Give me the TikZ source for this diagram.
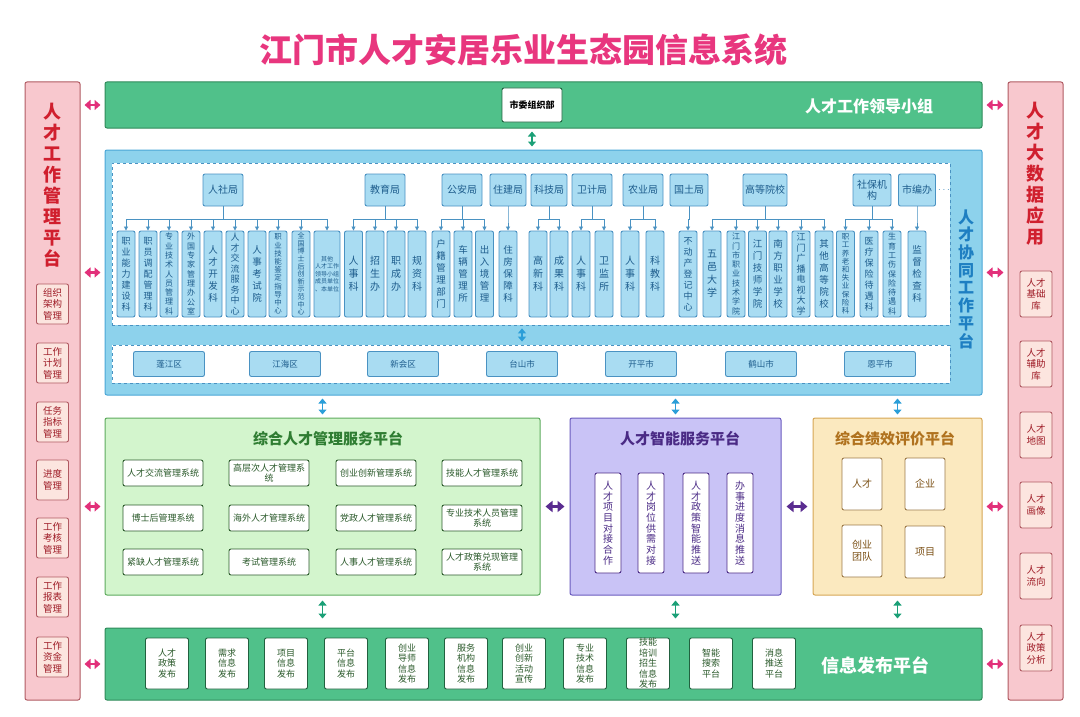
\documentclass[tikz,border=0pt]{standalone}
\usepackage{fontspec}
\setmainfont{Noto Sans CJK SC}
\usetikzlibrary{arrows.meta}

\XeTeXlinebreaklocale "zh"
\XeTeXlinebreakskip=0pt plus 0.5pt
\newcommand{\vtext}[1]{\parbox{1.02em}{\centering #1}}

\definecolor{cTitle}{HTML}{E8367E}
\definecolor{cSideFill}{HTML}{F8C8CE}
\definecolor{cSideLine}{HTML}{B05A62}
\definecolor{cSideHead}{HTML}{D01F2E}
\definecolor{cSideBox}{HTML}{FCE5DF}
\definecolor{cSideText}{HTML}{9E1B26}
\definecolor{cLead}{HTML}{50C18A}
\definecolor{cLeadLine}{HTML}{2F8A5A}
\definecolor{cBlue}{HTML}{8DD2EC}
\definecolor{cBlueLine}{HTML}{4AA6D6}
\definecolor{cBlueHead}{HTML}{1E7FC2}
\definecolor{cDept}{HTML}{A9DCF2}
\definecolor{cDeptLine}{HTML}{4A92C2}
\definecolor{cDeptText}{HTML}{1D5C8C}
\definecolor{cMgmt}{HTML}{D3F5CD}
\definecolor{cMgmtLine}{HTML}{5DAA5D}
\definecolor{cMgmtHead}{HTML}{2F7D32}
\definecolor{cMgmtText}{HTML}{2B5A2B}
\definecolor{cSmart}{HTML}{C9C3F6}
\definecolor{cSmartLine}{HTML}{6A5BBE}
\definecolor{cSmartHead}{HTML}{4A2A85}
\definecolor{cEval}{HTML}{FBE9BF}
\definecolor{cEvalLine}{HTML}{D6A655}
\definecolor{cEvalHead}{HTML}{B0721E}
\definecolor{cEvalBox}{HTML}{9C7A48}
\definecolor{cPink}{HTML}{E2307A}
\definecolor{cArrBlue}{HTML}{2B9ED8}
\definecolor{cArrGreen}{HTML}{1BA077}
\definecolor{cArrPurple}{HTML}{5A2C90}

\begin{document}
\begin{tikzpicture}[x=1pt, y=-1pt,
  panel/.style={draw, line width=1, rounded corners=2},
  sidehead/.style={text=cSideHead, inner sep=0, font=\bfseries\fontsize{18}{21}\selectfont},
  sidebox/.style={draw=cSideLine, fill=cSideBox, text=cSideText, rounded corners=2, line width=0.9,
    minimum width=32, minimum height=40, align=center, inner sep=1, font=\fontsize{9.5}{11.5}\selectfont},
  zone/.style={draw=cDeptLine, dashed, fill=white, line width=0.8},
  dept/.style={draw=cDeptLine, fill=cDept, text=cDeptText, rounded corners=2, line width=0.9,
    minimum width=40, minimum height=32, align=center, inner sep=1, font=\fontsize{10}{11}\selectfont},
  kid/.style={dept, minimum width=18, minimum height=86, inner sep=0, font=\fontsize{9}{11}\selectfont},
  county/.style={dept, minimum width=71, minimum height=25, font=\fontsize{8.5}{10}\selectfont},
  tree/.style={draw=cDeptLine, line width=0.8, -{Triangle[width=4,length=4]}},
  whitebox/.style={draw, fill=white, rounded corners=2, line width=0.9, align=center, inner sep=1},
  sys/.style={whitebox, draw=cMgmtText, text=cMgmtText, minimum width=80, minimum height=26,
    font=\fontsize{9}{10}\selectfont},
  smartbox/.style={whitebox, draw=cSmartHead, text=cSmartHead, minimum width=26, minimum height=100,
    inner sep=0, font=\fontsize{10}{10.7}\selectfont},
  evalbox/.style={whitebox, draw=cEvalBox, text=cEvalHead!70!black, minimum width=40, minimum height=52,
    font=\fontsize{10}{12}\selectfont},
  pubbox/.style={whitebox, draw=cLeadLine!70!black, text=cMgmtText, minimum width=43, minimum height=51,
    font=\fontsize{9}{10.5}\selectfont},
  twoway/.style={line width=2.2, {Triangle[width=8,length=5]}-{Triangle[width=8,length=5]}},
  pinkarrow/.style={line width=2.6, draw=cPink, {Triangle[width=10,length=6]}-{Triangle[width=10,length=6]},
    shorten <=4, shorten >=4},
  bluearrow/.style={twoway, draw=cArrBlue, line width=1.8, shorten <=3, shorten >=3},
  greenarrow/.style={twoway, draw=cArrGreen, line width=1.8, shorten <=3, shorten >=3},
  purplearrow/.style={line width=3, draw=cArrPurple, {Triangle[width=11,length=7]}-{Triangle[width=11,length=7]},
    shorten <=5, shorten >=5}]
\useasboundingbox (0,0) rectangle (1080,717);

% Title
\node (title) at (523,50) [text=cTitle, font=\bfseries\fontsize{33}{36}\selectfont] {江门市人才安居乐业生态园信息系统};

% Left panel
\node (talentmgr) at (52.5,391) [panel, draw=cSideLine, fill=cSideFill, minimum width=55, minimum height=618] {};
\node (talentmgrhead) at (52.5,185) [sidehead] {\vtext{人才工作管理平台}};
\node (orgarch) at (52.5,304) [sidebox] {组织\\架构\\管理};
\node (workplan) at (52.5,363) [sidebox] {工作\\计划\\管理};
\node (taskgoal) at (52.5,422) [sidebox] {任务\\指标\\管理};
\node (progress) at (52.5,480) [sidebox] {进度\\管理};
\node (appraise) at (52.5,538) [sidebox] {工作\\考核\\管理};
\node (report) at (52.5,597) [sidebox] {工作\\报表\\管理};
\node (funds) at (52.5,657) [sidebox] {工作\\资金\\管理};

% Right panel
\node (bigdata) at (1035.5,391) [panel, draw=cSideLine, fill=cSideFill, minimum width=55, minimum height=618] {};
\node (bigdatahead) at (1035.5,174) [sidehead] {\vtext{人才大数据应用}};
\node (basedb) at (1036,294) [sidebox, minimum height=46] {人才\\基础\\库};
\node (auxdb) at (1036,364) [sidebox, minimum height=46] {人才\\辅助\\库};
\node (talentmap) at (1036,435) [sidebox, minimum height=46] {人才\\地图};
\node (portrait) at (1036,505) [sidebox, minimum height=46] {人才\\画像};
\node (flow) at (1036,576) [sidebox, minimum height=46] {人才\\流向};
\node (policyana) at (1036,648) [sidebox, minimum height=46] {人才\\政策\\分析};

% Leading group
\node (lead) at (543.5,105) [panel, draw=cLeadLine, fill=cLead, minimum width=877, minimum height=46] {};
\node (cpc) at (532,105) [whitebox, draw=cLeadLine!70!black, minimum width=60, minimum height=34,
  font=\bfseries\fontsize{9}{10}\selectfont] {市委组织部};
\node (leadhead) at (869,106) [text=white, font=\bfseries\fontsize{16}{18}\selectfont] {人才工作领导小组};

% Collaboration platform
\node (collab) at (543.5,272.5) [panel, draw=cBlueLine, fill=cBlue, minimum width=877, minimum height=245] {};
\node (deptzone) at (531,244) [zone, minimum width=838, minimum height=162] {};
\node (countyzone) at (531,364) [zone, minimum width=838, minimum height=38] {};
\node (collabhead) at (966,279) [text=cBlueHead, inner sep=0, font=\bfseries\fontsize{16}{17.7}\selectfont] {\vtext{人才协同工作平台}};

% Departments
\node (hrss) at (223,190) [dept] {人社局};
\node (edu) at (385,190) [dept] {教育局};
\node (police) at (462,190) [dept] {公安局};
\node (housing) at (508,190) [dept, minimum width=36] {住建局};
\node (sci) at (549,190) [dept, minimum width=36] {科技局};
\node (health) at (592,190) [dept] {卫计局};
\node (agri) at (643,190) [dept] {农业局};
\node (land) at (689,190) [dept, minimum width=38] {国土局};
\node (univ) at (765,190) [dept, minimum width=44] {高等院校};
\node (social) at (872,190) [dept, minimum width=38] {社保机\\构};
\node (staffing) at (917,190) [dept, minimum width=37] {市编办};
\node (more) at (944,190) [text=cDeptLine] {$\cdots$};

\node (hr1) at (126,274) [kid] {\vtext{职业能力建设科}};
\node (hr2) at (148,274) [kid] {\vtext{职员调配管理科}};
\node (hr3) at (169,274) [kid, font=\fontsize{8}{9.3}\selectfont] {\vtext{专业技术人员管理科}};
\node (hr4) at (191,274) [kid, font=\fontsize{8}{9.3}\selectfont] {\vtext{外国专家管理办公室}};
\node (hr5) at (213,274) [kid, font=\fontsize{9.5}{12}\selectfont] {\vtext{人才开发科}};
\node (hr6) at (235,274) [kid, font=\fontsize{9}{10.5}\selectfont] {\vtext{人才交流服务中心}};
\node (hr7) at (257,274) [kid, font=\fontsize{9.5}{12}\selectfont] {\vtext{人事考试院}};
\node (hr8) at (278,274) [kid, font=\fontsize{7.5}{8.2}\selectfont] {\vtext{职业技能鉴定指导中心}};
\node (hr9) at (301,274) [kid, font=\fontsize{7}{7.6}\selectfont] {\vtext{全国博士后创新示范中心}};
\node (hr10) at (327,274) [kid, minimum width=26, font=\fontsize{6}{7.5}\selectfont] {其他\\人才工作\\领导小组\\成员单位\\、本单位};
\node (edu1) at (353.5,274) [kid, font=\fontsize{10}{13}\selectfont] {\vtext{人事科}};
\node (edu2) at (375,274) [kid, font=\fontsize{10}{13}\selectfont] {\vtext{招生办}};
\node (edu3) at (396,274) [kid, font=\fontsize{10}{13}\selectfont] {\vtext{职成办}};
\node (edu4) at (417,274) [kid, font=\fontsize{10}{13}\selectfont] {\vtext{规资科}};
\node (pol1) at (441,274) [kid, font=\fontsize{9.5}{12}\selectfont] {\vtext{户籍管理部门}};
\node (pol2) at (463,274) [kid, font=\fontsize{9.5}{12}\selectfont] {\vtext{车辆管理所}};
\node (pol3) at (484.5,274) [kid, font=\fontsize{9.5}{12}\selectfont] {\vtext{出入境管理}};
\node (hou1) at (508,274) [kid, font=\fontsize{9.5}{12}\selectfont] {\vtext{住房保障科}};
\node (sci1) at (538,274) [kid, font=\fontsize{10}{13}\selectfont] {\vtext{高新科}};
\node (sci2) at (559,274) [kid, font=\fontsize{10}{13}\selectfont] {\vtext{成果科}};
\node (hea1) at (581,274) [kid, font=\fontsize{10}{13}\selectfont] {\vtext{人事科}};
\node (hea2) at (604,274) [kid, font=\fontsize{10}{13}\selectfont] {\vtext{卫监所}};
\node (agr1) at (630,274) [kid, font=\fontsize{10}{13}\selectfont] {\vtext{人事科}};
\node (agr2) at (655,274) [kid, font=\fontsize{10}{13}\selectfont] {\vtext{科教科}};
\node (lan1) at (688,274) [kid] {\vtext{不动产登记中心}};
\node (uni1) at (712,274) [kid, font=\fontsize{10}{13}\selectfont] {\vtext{五邑大学}};
\node (uni2) at (736,274) [kid, font=\fontsize{8}{9.3}\selectfont] {\vtext{江门市职业技术学院}};
\node (uni3) at (757.5,274) [kid, font=\fontsize{9.5}{12}\selectfont] {\vtext{江门技师学院}};
\node (uni4) at (778,274) [kid, font=\fontsize{9.5}{12}\selectfont] {\vtext{南方职业学校}};
\node (uni5) at (801,274) [kid, font=\fontsize{9}{10.5}\selectfont] {\vtext{江门广播电视大学}};
\node (uni6) at (824,274) [kid, font=\fontsize{9.5}{12}\selectfont] {\vtext{其他高等院校}};
\node (soc1) at (845.5,274) [kid, font=\fontsize{7.5}{8.2}\selectfont] {\vtext{职工养老和失业保险科}};
\node (soc2) at (869,274) [kid] {\vtext{医疗保险待遇科}};
\node (soc3) at (892,274) [kid, font=\fontsize{8}{9.3}\selectfont] {\vtext{生育工伤保险待遇科}};
\node (sta1) at (917,274) [kid, font=\fontsize{9.5}{12}\selectfont] {\vtext{监督检查科}};

\foreach \p/\c in {hrss/hr1, hrss/hr2, hrss/hr3, hrss/hr4, hrss/hr5, hrss/hr6, hrss/hr7, hrss/hr8, hrss/hr9, hrss/hr10,
    edu/edu1, edu/edu2, edu/edu3, edu/edu4, police/pol1, police/pol2, police/pol3, housing/hou1,
    sci/sci1, sci/sci2, health/hea1, health/hea2, agri/agr1, agri/agr2, land/lan1,
    univ/uni1, univ/uni2, univ/uni3, univ/uni4, univ/uni5, univ/uni6,
    social/soc1, social/soc2, social/soc3, staffing/sta1}
  \draw[tree] (\p.south) -- ++(0,13) -| (\c.north);

% Counties
\node (pengjiang) at (169,364) [county] {蓬江区};
\node (jianghai) at (285,364) [county] {江海区};
\node (xinhui) at (403,364) [county] {新会区};
\node (taishan) at (522,364) [county] {台山市};
\node (kaiping) at (641,364) [county] {开平市};
\node (heshan) at (761,364) [county] {鹤山市};
\node (enping) at (880,364) [county] {恩平市};

% Management platform
\node (mgmt) at (322.5,506.5) [panel, draw=cMgmtLine, fill=cMgmt, minimum width=435, minimum height=177] {};
\node (mgmthead) at (328,439) [text=cMgmtHead, font=\bfseries\fontsize{15}{17}\selectfont] {综合人才管理服务平台};
\node (sys1) at (163,473) [sys] {人才交流管理系统};
\node (sys2) at (269,473) [sys] {高层次人才管理系\\统};
\node (sys3) at (376,473) [sys] {创业创新管理系统};
\node (sys4) at (482,473) [sys] {技能人才管理系统};
\node (sys5) at (163,518) [sys] {博士后管理系统};
\node (sys6) at (269,518) [sys] {海外人才管理系统};
\node (sys7) at (376,518) [sys] {党政人才管理系统};
\node (sys8) at (482,518) [sys] {专业技术人员管理\\系统};
\node (sys9) at (163,562) [sys] {紧缺人才管理系统};
\node (sys10) at (269,562) [sys] {考试管理系统};
\node (sys11) at (376,562) [sys] {人事人才管理系统};
\node (sys12) at (482,562) [sys] {人才政策兑现管理\\系统};

% Smart service platform
\node (smart) at (675.5,506.5) [panel, draw=cSmartLine, fill=cSmart, minimum width=211, minimum height=177] {};
\node (smarthead) at (680,439) [text=cSmartHead, font=\bfseries\fontsize{15}{17}\selectfont] {人才智能服务平台};
\node (match) at (608,523) [smartbox] {\vtext{人才项目对接合作}};
\node (supply) at (651,523) [smartbox] {\vtext{人才岗位供需对接}};
\node (push) at (696,523) [smartbox] {\vtext{人才政策智能推送}};
\node (notify) at (740,523) [smartbox] {\vtext{办事进度消息推送}};

% Evaluation platform
\node (eval) at (897.5,506.5) [panel, draw=cEvalLine, fill=cEval, minimum width=169, minimum height=177] {};
\node (evalhead) at (895,439) [text=cEvalHead, font=\bfseries\fontsize{15}{17}\selectfont] {综合绩效评价平台};
\node (evtalent) at (862,484) [evalbox] {人才};
\node (evfirm) at (925,484) [evalbox] {企业};
\node (evteam) at (862,551) [evalbox] {创业\\团队};
\node (evproj) at (925,552) [evalbox] {项目};

% Publishing platform
\node (publish) at (543.5,664) [panel, draw=cLeadLine, fill=cLead, minimum width=877, minimum height=72] {};
\node (pub1) at (167,663.5) [pubbox] {人才\\政策\\发布};
\node (pub2) at (227,663.5) [pubbox] {需求\\信息\\发布};
\node (pub3) at (286,663.5) [pubbox] {项目\\信息\\发布};
\node (pub4) at (346,663.5) [pubbox] {平台\\信息\\发布};
\node (pub5) at (407,663.5) [pubbox] {创业\\导师\\信息\\发布};
\node (pub6) at (466,663.5) [pubbox] {服务\\机构\\信息\\发布};
\node (pub7) at (524,663.5) [pubbox] {创业\\创新\\活动\\宣传};
\node (pub8) at (585,663.5) [pubbox] {专业\\技术\\信息\\发布};
\node (pub9) at (648,663.5) [pubbox, inner ysep=0] {技能\\培训\\招生\\信息\\发布};
\node (pub10) at (711,663.5) [pubbox] {智能\\搜索\\平台};
\node (pub11) at (774,663.5) [pubbox] {消息\\推送\\平台};
\node (publishhead) at (875,665) [text=white, font=\bfseries\fontsize{18}{20}\selectfont] {信息发布平台};

% Arrows
\draw[pinkarrow] (talentmgr.east |- lead.west) -- (lead.west);
\draw[pinkarrow] (talentmgr.east |- collab.west) -- (collab.west);
\draw[pinkarrow] (talentmgr.east |- mgmt.west) -- (mgmt.west);
\draw[pinkarrow] (talentmgr.east |- publish.west) -- (publish.west);
\draw[pinkarrow] (lead.east) -- (bigdata.west |- lead.east);
\draw[pinkarrow] (collab.east) -- (bigdata.west |- collab.east);
\draw[pinkarrow] (eval.east) -- (bigdata.west |- eval.east);
\draw[pinkarrow] (publish.east) -- (bigdata.west |- publish.east);
\draw[greenarrow] (cpc |- lead.south) -- (cpc |- collab.north);
\draw[bluearrow] (deptzone.south -| taishan) -- (taishan |- countyzone.north);
\draw[bluearrow] (collab.south -| mgmt.north) -- (mgmt.north);
\draw[bluearrow] (collab.south -| smart.north) -- (smart.north);
\draw[bluearrow] (collab.south -| eval.north) -- (eval.north);
\draw[greenarrow, shorten <=5, shorten >=9] (mgmt.south) -- (mgmt.south |- publish.north);
\draw[greenarrow, shorten <=5, shorten >=9] (smart.south) -- (smart.south |- publish.north);
\draw[greenarrow, shorten <=5, shorten >=9] (eval.south) -- (eval.south |- publish.north);
\draw[purplearrow] (mgmt.east) -- (smart.west);
\draw[purplearrow] (smart.east) -- (eval.west);
\end{tikzpicture}
\end{document}
